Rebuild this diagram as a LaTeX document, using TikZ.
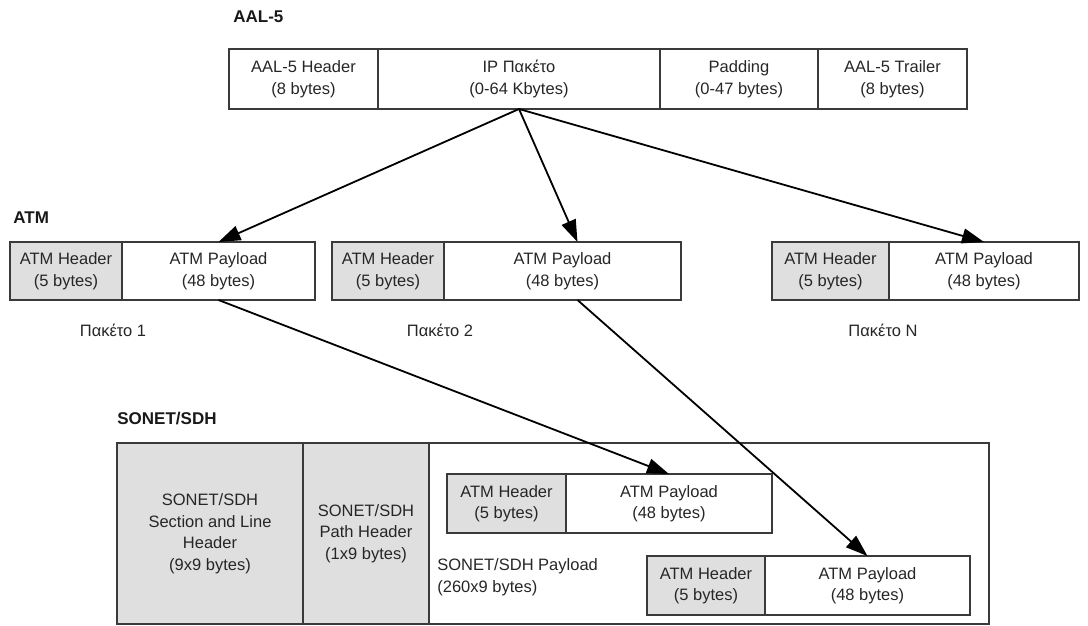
\documentclass[tikz,border=0pt]{standalone}
\usepackage{fontspec}
\setmainfont{Liberation Sans}
\usetikzlibrary{positioning, arrows.meta}
\definecolor{hdrgray}{HTML}{DFDFDF}
\definecolor{edge}{HTML}{3A3A3A}

\begin{document}
\begin{tikzpicture}[x=1pt, y=-1pt, thick,
  field/.style={draw=edge, line width=1.1pt, minimum height=58pt, outer sep=0pt,
    inner sep=0pt, align=center, text=black!85,
    font=\fontsize{16.5}{21.5}\selectfont},
  hdr/.style={field, fill=hdrgray},
  layer/.style={anchor=west, inner sep=0pt, text=black!90, font=\bfseries\fontsize{17}{19}\selectfont},
  caption/.style={inner sep=0pt, text=black!85, font=\fontsize{16.5}{22}\selectfont},
  carry/.style={-{Triangle[length=22pt, width=15pt]}, line width=1.8pt}]
  \useasboundingbox (0,0) rectangle (1088,625);
  % AAL-5 frame
  \node[layer] (aal) at (233,17) {AAL-5};
  \node[field, minimum width=149pt, minimum height=60pt, anchor=north west] (aalhdr) at (229,49) {AAL-5 Header\\(8 bytes)};
  \node[field, minimum width=282pt, minimum height=60pt, right=0pt of aalhdr] (ippkt) {IP Πακέτο\\(0-64 Kbytes)};
  \node[field, minimum width=158pt, minimum height=60pt, right=0pt of ippkt] (padding) {Padding\\(0-47 bytes)};
  \node[field, minimum width=149pt, minimum height=60pt, right=0pt of padding] (aaltrl) {AAL-5 Trailer\\(8 bytes)};
  % ATM cells
  \node[layer] (atm) at (13,218) {ATM};
  \node[hdr, minimum width=112pt, anchor=north west] (hdr1) at (10,242) {ATM Header\\(5 bytes)};
  \node[field, minimum width=193pt, right=0pt of hdr1] (load1) {ATM Payload\\(48 bytes)};
  \node[hdr, minimum width=112pt, anchor=north west] (hdr2) at (332,242) {ATM Header\\(5 bytes)};
  \node[field, minimum width=237pt, right=0pt of hdr2] (load2) {ATM Payload\\(48 bytes)};
  \node[hdr, minimum width=117pt, anchor=north west] (hdrN) at (772,242) {ATM Header\\(5 bytes)};
  \node[field, minimum width=190pt, right=0pt of hdrN] (loadN) {ATM Payload\\(48 bytes)};
  \node[caption] (pkt1) at (113,330) {Πακέτο 1};
  \node[caption] (pkt2) at (440,330) {Πακέτο 2};
  \node[caption] (pktN) at (883,330) {Πακέτο N};
  % SONET/SDH frame
  \node[layer] (sonet) at (117,419) {SONET/SDH};
  \node[hdr, minimum width=186pt, minimum height=181pt, anchor=north west] (secline) at (117,443) {SONET/SDH\\Section and Line\\Header\\(9x9 bytes)};
  \node[hdr, minimum width=126pt, minimum height=181pt, right=0pt of secline] (pathhdr) {SONET/SDH\\Path Header\\(1x9 bytes)};
  \node[field, minimum width=560pt, minimum height=181pt, right=0pt of pathhdr] (sdhpay) {};
  \node[hdr, minimum width=119pt, minimum height=59pt, anchor=north west] (inhdr1) at (447,474) {ATM Header\\(5 bytes)};
  \node[field, minimum width=206pt, minimum height=59pt, right=0pt of inhdr1] (inload1) {ATM Payload\\(48 bytes)};
  \node[hdr, minimum width=118pt, minimum height=59pt, anchor=north west] (inhdr2) at (647,556) {ATM Header\\(5 bytes)};
  \node[field, minimum width=205pt, minimum height=59pt, right=0pt of inhdr2] (inload2) {ATM Payload\\(48 bytes)};
  \node[caption, align=left, anchor=west] (paytext) at (437,577) {SONET/SDH Payload\\(260x9 bytes)};
  % mapping
  \draw[carry] (ippkt.south) -- (load1.north);
  \draw[carry] (ippkt.south) -- ([xshift=15pt]load2.north);
  \draw[carry] (ippkt.south) -- (loadN.north);
  \draw[carry] (load1.south) -- (inload1.north);
  \draw[carry] ([xshift=15pt]load2.south) -- (inload2.north);
\end{tikzpicture}
\end{document}
